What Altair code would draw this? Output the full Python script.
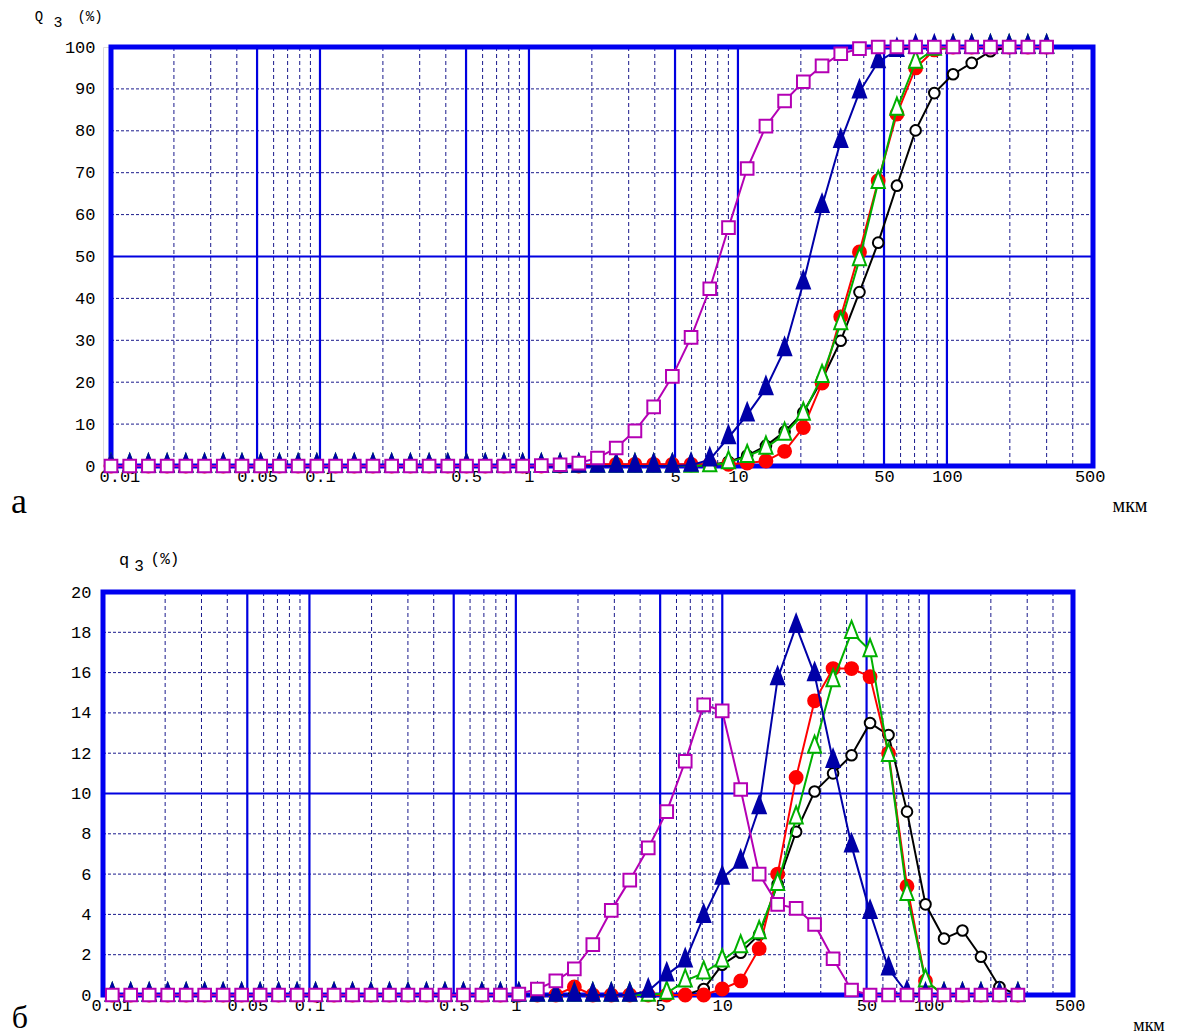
import math
import altair as alt
import pandas as pd

# ---------------- data ----------------
# size-class edges (µm) used by the cumulative curves Q3
edges = [0.01, 0.01229, 0.0151, 0.01856, 0.02281, 0.02803, 0.03445, 0.04234, 0.05204, 0.06395,
         0.07859, 0.09659, 0.1187, 0.1459, 0.1793, 0.2203, 0.2708, 0.3328, 0.409, 0.5026,
         0.6177, 0.7591, 0.9329, 1.146, 1.409, 1.732, 2.128, 2.615, 3.214, 3.95,
         4.854, 5.966, 7.332, 9.01, 11.07, 13.61, 16.72, 20.55, 25.26, 31.04,
         38.15, 46.89, 57.62, 70.81, 87.03, 107.0, 131.4, 161.5, 198.5, 244.0,
         300.0]
# size-class centres (µm) used by the density curves q3
mids = [0.01109, 0.01362, 0.01674, 0.02058, 0.02529, 0.03108, 0.03819, 0.04694, 0.05769, 0.07089,
        0.08713, 0.1071, 0.1316, 0.1617, 0.1987, 0.2442, 0.3002, 0.3689, 0.4534, 0.5572,
        0.6847, 0.8415, 1.034, 1.271, 1.562, 1.92, 2.359, 2.899, 3.563, 4.379,
        5.381, 6.614, 8.128, 9.989, 12.28, 15.09, 18.54, 22.79, 28.0, 34.41,
        42.29, 51.98, 63.88, 78.5, 96.48, 118.6, 145.7, 179.1, 220.1, 270.5]

Q_black = [0, 0, 0, 0, 0, 0, 0, 0, 0, 0,
           0, 0, 0, 0, 0, 0, 0, 0, 0, 0,
           0, 0, 0, 0, 0, 0, 0, 0, 0, 0,
           0, 0, 0.2, 1.0, 2.5, 4.8, 8.2, 12.8, 20.6, 29.9,
           41.5, 53.3, 66.9, 80.1, 89.0, 93.5, 96.2, 99.0, 100, 100,
           100]
Q_red = [0, 0, 0, 0, 0, 0, 0, 0, 0, 0,
         0, 0, 0, 0, 0, 0, 0, 0, 0, 0,
         0, 0, 0, 0, 0, 0, 0.4, 0.4, 0.4, 0.4,
         0.4, 0.4, 0.4, 0.4, 0.7, 1.2, 3.5, 9.2, 19.8, 35.6,
         51.1, 68.1, 84.0, 95.0, 99.3, 100, 100, 100, 100, 100,
         100]
Q_green = [0, 0, 0, 0, 0, 0, 0, 0, 0, 0,
           0, 0, 0, 0, 0, 0, 0, 0, 0, 0,
           0, 0, 0, 0, 0, 0, 0, 0, 0, 0,
           0, 0, 0.1, 0.8, 2.3, 4.3, 7.6, 12.4, 21.4, 34.0,
           49.3, 67.7, 85.2, 96.4, 99.5, 100, 100, 100, 100, 100,
           100]
Q_blue = [0, 0, 0, 0, 0, 0, 0, 0, 0, 0,
          0, 0, 0, 0, 0, 0, 0, 0, 0, 0,
          0, 0, 0, 0, 0, 0, 0, 0, 0, 0,
          0, 0.2, 1.5, 6.8, 12.2, 18.5, 27.8, 43.7, 62.0, 77.5,
          89.3, 96.5, 99.2, 100, 100, 100, 100, 100, 100, 100,
          100]
Q_magenta = [0, 0, 0, 0, 0, 0, 0, 0, 0, 0,
             0, 0, 0, 0, 0, 0, 0, 0, 0, 0,
             0, 0, 0, 0.1, 0.3, 0.7, 1.9, 4.3, 8.4, 14.1,
             21.4, 30.7, 42.3, 56.9, 71.0, 81.1, 87.1, 91.7, 95.5, 98.4,
             99.6, 100, 100, 100, 100, 100, 100, 100, 100, 100,
             100]

q_black = [0, 0, 0, 0, 0, 0, 0, 0, 0, 0,
           0, 0, 0, 0, 0, 0, 0, 0, 0, 0,
           0, 0, 0, 0, 0, 0, 0, 0, 0, 0,
           0, 0, 0.3, 1.5, 2.1, 3.0, 5.5, 8.1, 10.1, 11.0,
           11.9, 13.5, 12.9, 9.1, 4.5, 2.8, 3.2, 1.9, 0.4, 0]
q_red = [0, 0, 0, 0, 0, 0, 0, 0, 0, 0,
         0, 0, 0, 0, 0, 0, 0, 0, 0, 0,
         0, 0, 0, 0, 0, 0.4, 0, 0, 0, 0,
         0, 0, 0, 0.3, 0.7, 2.3, 6.0, 10.8, 14.6, 16.2,
         16.2, 15.8, 12.0, 5.4, 0.7, 0, 0, 0, 0, 0]
q_green = [0, 0, 0, 0, 0, 0, 0, 0, 0, 0,
           0, 0, 0, 0, 0, 0, 0, 0, 0, 0,
           0, 0, 0, 0, 0, 0, 0, 0, 0, 0,
           0.1, 0.7, 1.1, 1.7, 2.4, 3.1, 5.5, 8.8, 12.3, 15.6,
           18.0, 17.1, 11.9, 5.0, 0.7, 0, 0, 0, 0, 0]
q_blue = [0, 0, 0, 0, 0, 0, 0, 0, 0, 0,
          0, 0, 0, 0, 0, 0, 0, 0, 0, 0,
          0, 0, 0, 0, 0, 0, 0, 0, 0, 0.2,
          1.0, 1.7, 3.9, 5.8, 6.6, 9.3, 15.7, 18.3, 15.9, 11.6,
          7.4, 4.1, 1.3, 0.1, 0, 0, 0, 0, 0, 0]
q_magenta = [0, 0, 0, 0, 0, 0, 0, 0, 0, 0,
             0, 0, 0, 0, 0, 0, 0, 0, 0, 0,
             0, 0, 0.05, 0.3, 0.7, 1.3, 2.5, 4.2, 5.7, 7.3,
             9.1, 11.6, 14.4, 14.1, 10.2, 6.0, 4.5, 4.3, 3.5, 1.8,
             0.25, 0, 0, 0, 0, 0, 0, 0, 0, 0]

x_ticks = [0.01, 0.05, 0.1, 0.5, 1, 5, 10, 50, 100, 500]
x_grid_solid = [0.05, 0.1, 0.5, 1, 5, 10, 50, 100]
x_grid_dashed = [0.02, 0.03, 0.04, 0.06, 0.07, 0.08, 0.09,
                 0.2, 0.3, 0.4, 0.6, 0.7, 0.8, 0.9,
                 2, 3, 4, 6, 7, 8, 9,
                 20, 30, 40, 60, 70, 80, 90,
                 200, 300, 400]
yA_ticks = [0, 10, 20, 30, 40, 50, 60, 70, 80, 90, 100]
yA_solid = [50]
yA_dashed = [10, 20, 30, 40, 60, 70, 80, 90]
yB_ticks = [0, 2, 4, 6, 8, 10, 12, 14, 16, 18, 20]
yB_solid = [10]
yB_dashed = [2, 4, 6, 8, 12, 14, 16, 18]

# ---------------- style ----------------
BORDER = "#0000f0"
GRID_SOLID = "#0000e0"
GRID_DASH = "#1a1a8c"
MONO = "Liberation Mono"
SERIF = "Liberation Serif"
TRI = "M0,-1L0.58,0.5L-0.58,0.5Z"

series_style = [
    # (name, color, shape, filled, size)
    ("black", "#000000", "circle", False, 113),
    ("red", "#ff0000", "circle", True, 165),
    ("green", "#00b000", TRI, False, 520),
    ("blue", "#0000a8", TRI, True, 520),
    ("magenta", "#b400b4", "square", False, 160),
]


def panel(xs, ys_list, yticks, ysolid, ydashed, ydom, W, H, gap, label_pad, texts):
    # gap: pixels between the left end of the plot area and the 0.01 µm edge of the frame
    a = gap * (math.log10(500) + 2) / (W - gap)
    xmin = 10 ** (-2 - a)
    xscale = alt.Scale(type="log", domain=[xmin, 500], nice=False)
    yscale = alt.Scale(domain=ydom, nice=False, zero=False)
    xaxis = alt.Axis(values=x_ticks, format="~g", grid=False, ticks=False, domain=False,
                     labelFont=MONO, labelFontSize=17, labelColor="black", labelPadding=2,
                     labelFlush=12, labelFlushOffset=12, labelOverlap=False, title=None)
    yaxis = alt.Axis(values=yticks, format="d", grid=False, ticks=False, domain=False,
                     labelFont=MONO, labelFontSize=17, labelColor="black",
                     labelPadding=label_pad, labelOverlap=False, title=None)

    def X(f):
        return alt.X(f, type="quantitative", scale=xscale, axis=xaxis)

    def Y(f):
        return alt.Y(f, type="quantitative", scale=yscale, axis=yaxis)

    layers = [
        alt.Chart(pd.DataFrame({"h": ydashed})).mark_rule(
            color=GRID_DASH, strokeWidth=1, strokeDash=[3, 2]).encode(
            y=Y("h"), x=alt.value(gap), x2=alt.value(W)),
        alt.Chart(pd.DataFrame({"v": x_grid_dashed})).mark_rule(
            color=GRID_DASH, strokeWidth=1, strokeDash=[4, 3]).encode(x=X("v")),
        alt.Chart(pd.DataFrame({"h": ysolid})).mark_rule(
            color=GRID_SOLID, strokeWidth=2.2).encode(
            y=Y("h"), x=alt.value(gap), x2=alt.value(W)),
        alt.Chart(pd.DataFrame({"v": x_grid_solid})).mark_rule(
            color=GRID_SOLID, strokeWidth=2.2).encode(x=X("v")),
        alt.Chart(pd.DataFrame({"a": [0]})).mark_rect(
            fill=None, stroke=BORDER, strokeWidth=5).encode(
            x=alt.value(gap), x2=alt.value(W), y=alt.value(0), y2=alt.value(H)),
    ]
    for (name, col, shape, filled, size), ys in zip(series_style, ys_list):
        df = pd.DataFrame({"x": xs, "y": ys})
        base = alt.Chart(df)
        layers.append(base.mark_line(color=col, strokeWidth=2).encode(x=X("x"), y=Y("y")))
        layers.append(base.mark_point(
            shape=shape, filled=True, fill=(col if filled else "white"), stroke=col,
            strokeWidth=2, size=size, opacity=1).encode(x=X("x"), y=Y("y")))
    for (t, px, py, font, fs) in texts:
        layers.append(alt.Chart(pd.DataFrame({"t": [t]})).mark_text(
            font=font, fontSize=fs, color="black", align="center", baseline="alphabetic").encode(
            text="t:N", x=alt.value(px), y=alt.value(py)))
    return alt.layer(*layers).properties(width=W, height=H)


W1, H1 = 990, 419
W2, H2 = 970, 403

top = panel(edges, [Q_black, Q_red, Q_green, Q_blue, Q_magenta], yA_ticks, yA_solid, yA_dashed,
            [0, 100], W1, H1, 8, 8,
            [("Q", -64, -26, MONO, 14),
             ("3", -45, -20, MONO, 15),
             ("(%)", -13, -26, MONO, 14),
             ("а", -84, H1 + 47, SERIF, 36),
             ("мкм", W1 + 37, H1 + 46, SERIF, 20)])

bottom = panel(mids, [q_black, q_red, q_green, q_blue, q_magenta], yB_ticks, yB_solid, yB_dashed,
               [0, 20], W2, H2, 0, 12,
               [("q", 21, -27, MONO, 17),
                ("3", 36, -21, MONO, 16),
                ("(%)", 62, -28, MONO, 16),
                ("б", -83, H2 + 33, SERIF, 32),
                ("мкм", W2 + 76, H2 + 36, SERIF, 18)])

chart = alt.ConcatChart(concat=[top, bottom], columns=1, spacing=29).properties(
    padding={"left": 2, "top": 1, "right": 5, "bottom": 0}
).configure_view(stroke=None).configure(background="white")

chart.save("out.html", embed_options={"renderer": "svg", "actions": False})
